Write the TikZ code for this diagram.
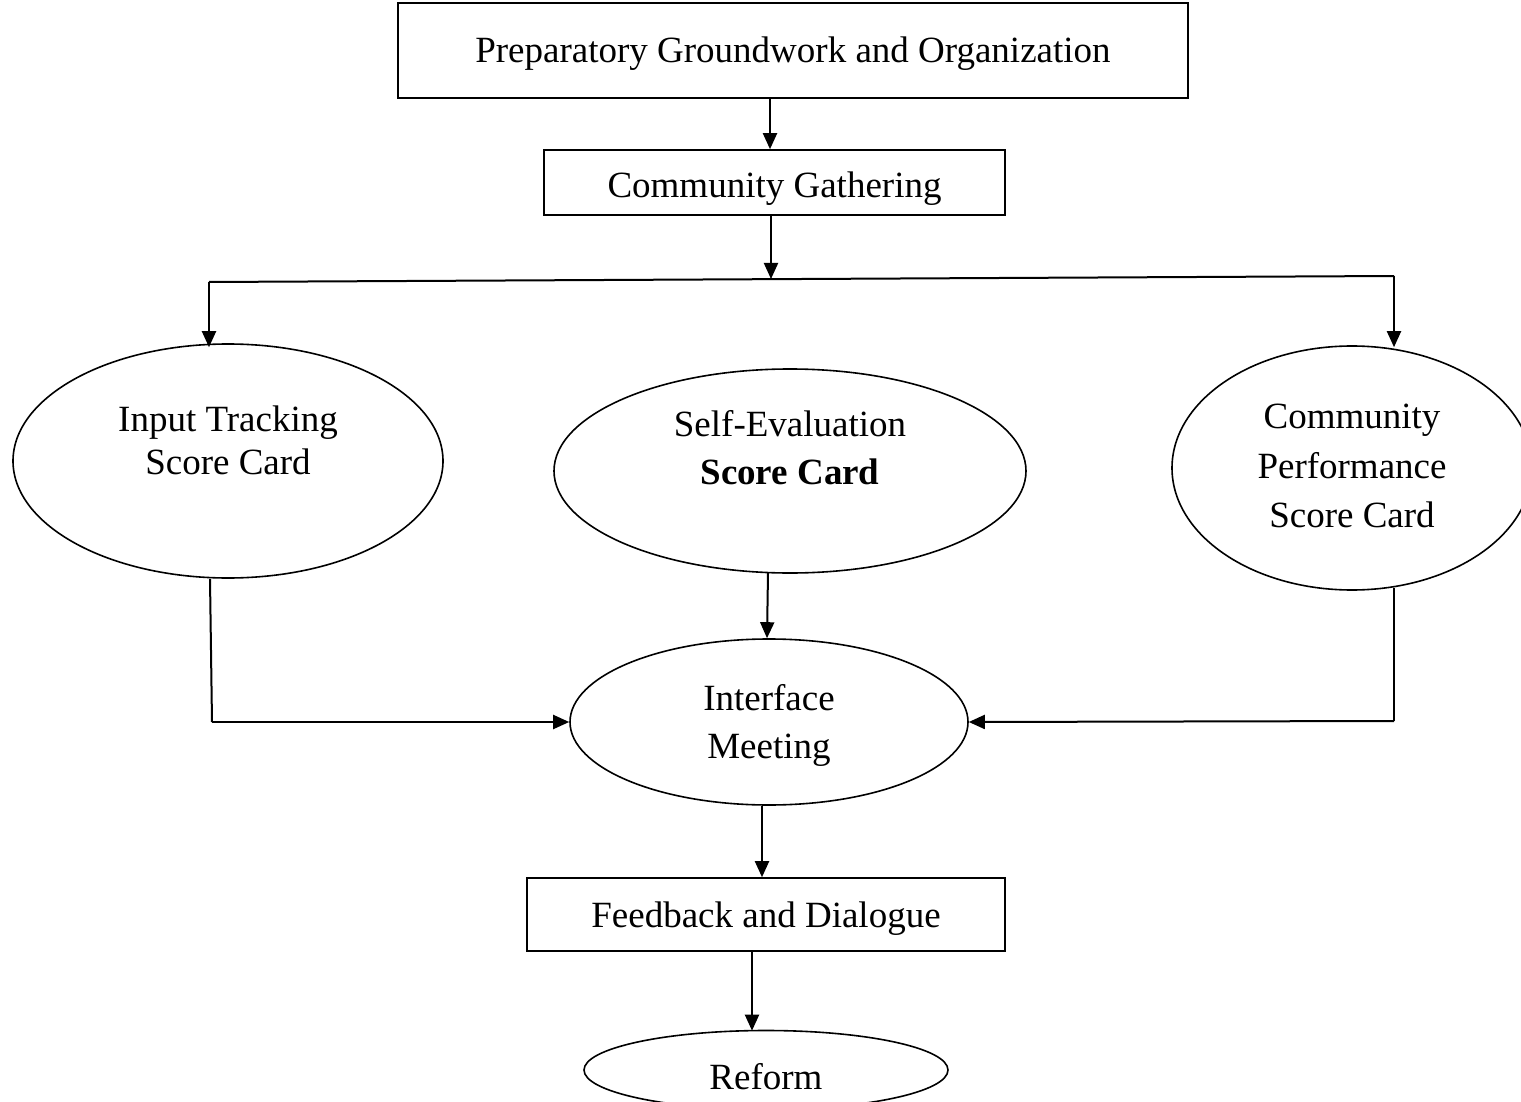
\documentclass[tikz,border=0pt]{standalone}
\usepackage{fontspec}
\setmainfont{Liberation Serif}
\usetikzlibrary{shapes.geometric,arrows.meta,calc}
\begin{document}
\begin{tikzpicture}[x=1pt,y=-1pt,
  every node/.style={font=\fontsize{37}{48}\selectfont},
  boxnode/.style={draw,line width=1.6pt,rectangle,inner sep=0pt},
  ellnode/.style={draw,line width=1.6pt,ellipse,inner sep=0pt},
  txt/.style={align=center,inner sep=0pt},
  conn/.style={line width=2pt},
  arr/.style={line width=2pt,-{Triangle[length=16pt,width=14pt]}}]
\clip (0,0) rectangle (1521,1102);
\fill[white] (0,0) rectangle (1521,1102);
% boxes
\node[boxnode,minimum width=790pt,minimum height=95pt] (top) at (793,50.5) {};
\node[txt] (topt) at (793,53.5) {Preparatory Groundwork and Organization};
\node[boxnode,minimum width=461pt,minimum height=65pt] (cg) at (774.5,182.5) {};
\node[txt] (cgt) at (774.5,189) {Community Gathering};
\node[boxnode,minimum width=478pt,minimum height=73pt] (fb) at (766,914.5) {};
\node[txt] (fbt) at (766,918.5) {Feedback and Dialogue};
% ellipses
\node[ellnode,minimum width=430pt,minimum height=234pt] (L) at (228,461) {};
\node[txt,font=\fontsize{37}{43}\selectfont] (Lt) at (228,440) {Input Tracking\\Score Card};
\node[ellnode,minimum width=472pt,minimum height=204pt] (M) at (790,471) {};
\node[txt] (Mt) at (790,448) {Self-Evaluation\\\textbf{Score Card}};
\node[ellnode,minimum width=360pt,minimum height=244pt] (R) at (1352,468) {};
\node[txt,font=\fontsize{37}{49.5}\selectfont] (Rt) at (1352,466) {Community\\Performance\\Score Card};
\node[ellnode,minimum width=398pt,minimum height=166pt] (I) at (769,722) {};
\node[txt] (It) at (769,725) {Interface\\Meeting};
\node[ellnode,minimum width=364pt,minimum height=79pt] (Re) at (766,1070) {};
\node[txt] (Ret) at (766,1077) {Reform};
% junctions
\coordinate (t0) at (770,98);
\coordinate (j) at (771,279);
\coordinate (jl) at (209,282);
\coordinate (jr) at (1394,276);
\coordinate (lb) at (212,722);
\coordinate (rb) at (1394,721);
\coordinate (m0) at (768,573);
\coordinate (fbo) at (752,951);
% connectors
\draw[arr] (t0) -- (t0 |- cg.north);
\draw[arr] (cg.south -| j) -- (j);
\draw[conn] (jl) -- (jr);
\draw[arr] (jl) -- ($(jl |- L.north)+(0,4)$);
\draw[arr] (jr) -- ($(jr |- R.north)+(0,2)$);
\draw[conn] ($(lb |- L.south)+(-2,0)$) -- (lb);
\draw[arr] (lb) -- (I.west);
\draw[conn] ($(rb |- R.south)+(0,-3)$) -- (rb);
\draw[arr] (rb) -- (I.east);
\draw[arr] (m0) -- ($(I.north)+(-2,0)$);
\draw[arr] ($(I.south)+(-7,0)$) -- ($(fb.north)+(-4,0)$);
\draw[arr] (fbo) -- ($(fbo |- Re.north)+(0,1)$);
\end{tikzpicture}
\end{document}
